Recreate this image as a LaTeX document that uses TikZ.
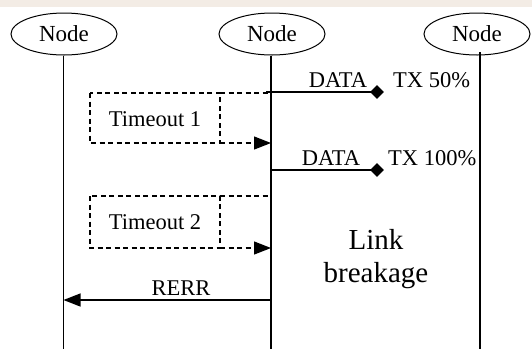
\documentclass[tikz,border=0pt]{standalone}
\usepackage{fontspec}
\setmainfont{Liberation Serif}
\usetikzlibrary{arrows.meta,shapes.geometric}
\begin{document}
\begin{tikzpicture}[x=1pt,y=-1pt,
  lifeline/.style={line width=1.3pt},
  hostnode/.style={ellipse,draw,line width=1pt,minimum width=106pt,minimum height=42pt,inner sep=0pt,font=\fontsize{23}{26}\selectfont},
  lbl/.style={anchor=base,inner sep=0pt,font=\fontsize{22.5}{26}\selectfont},
  msg/.style={line width=1.3pt},
  tmo/.style={line width=1.2pt,dash pattern=on 5pt off 3.5pt},
  tip/.style={-{Triangle[length=17pt,width=13pt]}},
  dmd/.style={diamond,fill=black,inner sep=0pt,minimum width=14pt,minimum height=14pt}
]
\useasboundingbox (0,0) rectangle (532,349);
\fill[color={rgb,255:red,243;green,236;blue,229}] (0,0) rectangle (532,7);
% nodes
\node[hostnode] (n1) at (64,34) {Node};
\node[hostnode] (n2) at (272,34) {Node};
\node[hostnode] (n3) at (477,34) {Node};
\coordinate (b1) at (63.5,349);
\coordinate (b2) at (271,349);
\coordinate (b3) at (480,349);
\draw[lifeline] (n1.south -| b1) -- (b1);
\draw[lifeline] (n2.south -| b2) -- (b2);
\draw[lifeline] (480,52) -- (b3);
% DATA 1
\coordinate (s1) at (266,92);
\node[dmd] (d1) at (377,92) {};
\draw[msg] (s1) -- (d1.center);
\node[lbl] at (338,87) {DATA};
\node[lbl,anchor=base west] at (393,87) {TX 50\%};
% DATA 2
\coordinate (s2) at (271,170);
\node[dmd] (d2) at (377,170) {};
\draw[msg] (s2) -- (d2.center);
\node[lbl] at (331,165) {DATA};
\node[lbl,anchor=base west] at (388,165) {TX 100\%};
% Timeout 1
\coordinate (t1a) at (90,93);
\coordinate (t1b) at (220,143);
\coordinate (l1top) at (271,93);
\coordinate (l1bot) at (271,143);
\draw[tmo] (t1a) rectangle (t1b);
\draw[tmo] (t1a -| t1b) -- (l1top);
\draw[tmo,tip] (t1b) -- (l1bot);
\node[lbl] at (155,126) {Timeout 1};
% Timeout 2
\coordinate (t2a) at (90,196);
\coordinate (t2b) at (220,248);
\coordinate (l2top) at (271,196);
\coordinate (l2bot) at (271,248);
\draw[tmo] (t2a) rectangle (t2b);
\draw[tmo] (t2a -| t2b) -- (l2top);
\draw[tmo,tip] (t2b) -- (l2bot);
\node[lbl] at (155,229) {Timeout 2};
% RERR
\coordinate (r1) at (271,300);
\coordinate (r0) at (63.5,300);
\draw[msg,tip] (r1) -- (r0);
\node[lbl] at (181,295) {RERR};
% Link breakage
\node[lbl,font=\fontsize{29}{33}\selectfont] at (376,249) {Link};
\node[lbl,font=\fontsize{29}{33}\selectfont] at (376,282) {breakage};
\end{tikzpicture}
\end{document}
